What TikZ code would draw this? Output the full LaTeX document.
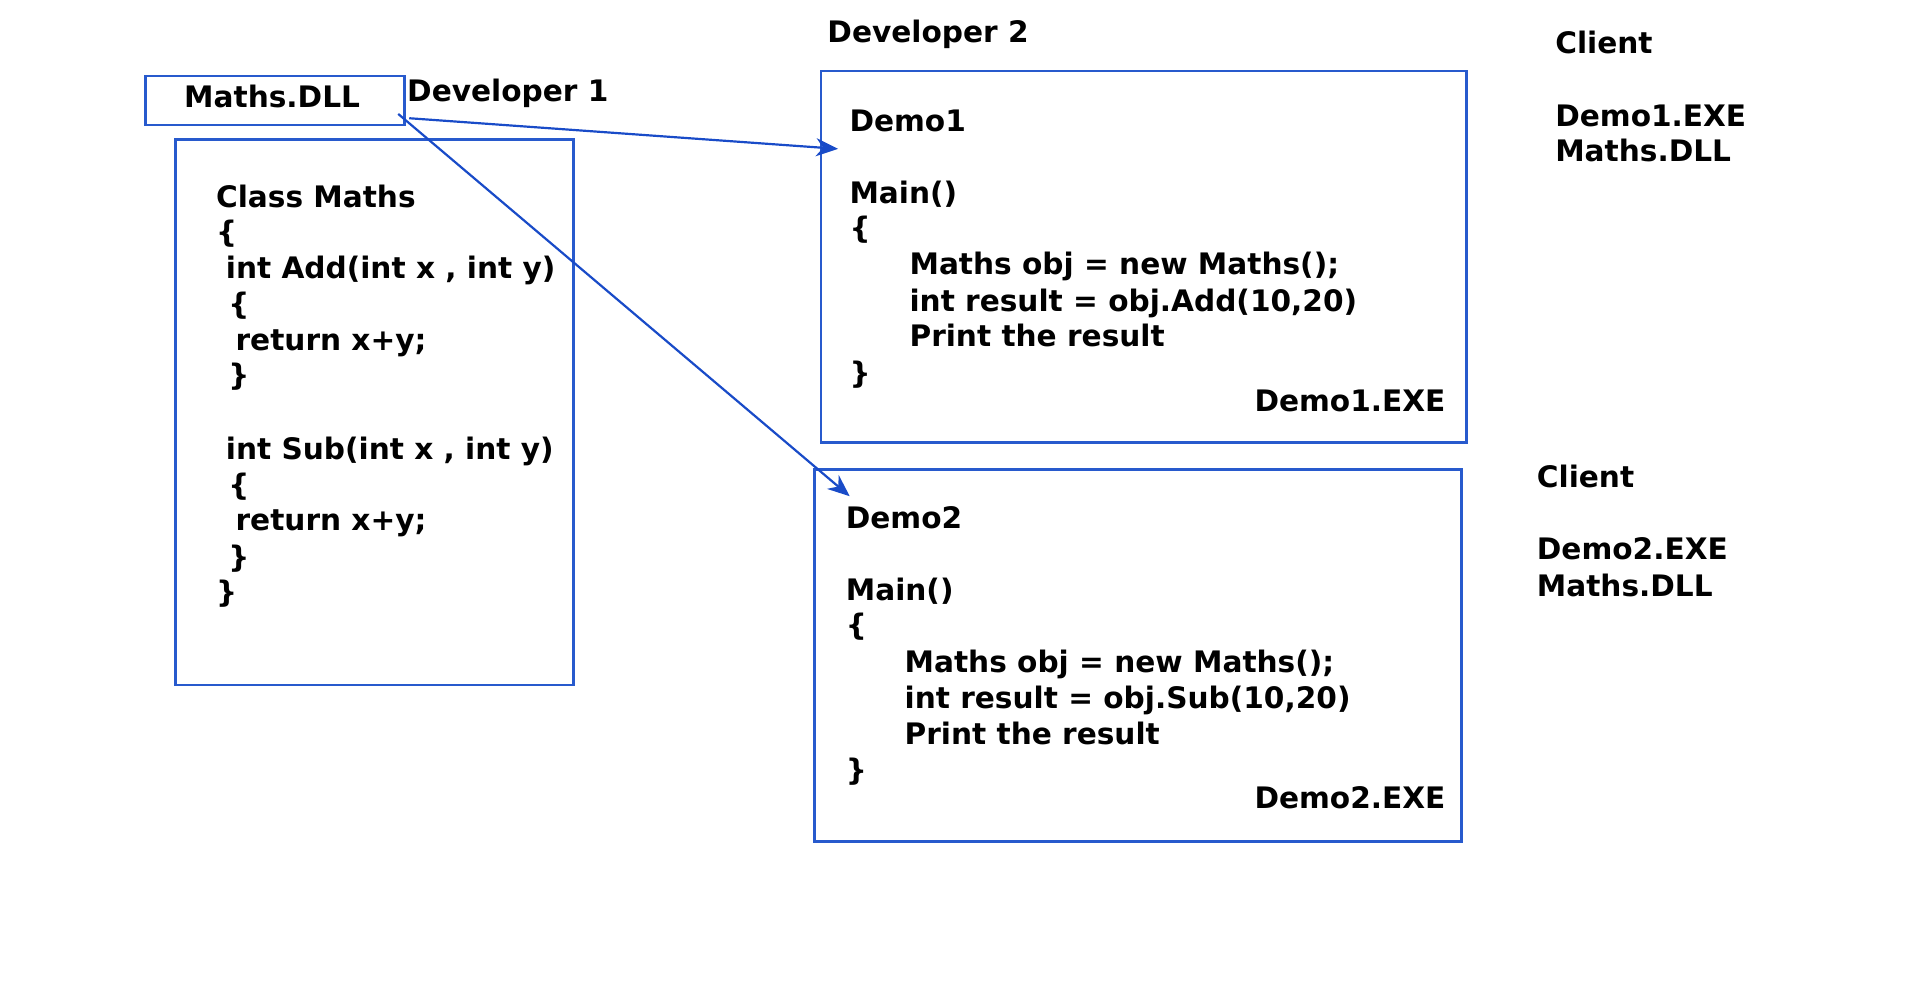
\documentclass[tikz,border=0pt]{standalone}
\usepackage{fontspec}
\setmainfont{DejaVu Sans}
\usetikzlibrary{fit,arrows.meta}
\definecolor{boxblue}{RGB}{40,90,205}
\definecolor{arrowblue}{RGB}{25,75,200}
\tikzset{
  txt/.style={anchor=base west, inner sep=0pt, font=\fontsize{14.8}{18}\selectfont\bfseries},
  txtr/.style={anchor=base east, inner sep=0pt, font=\fontsize{14.8}{18}\selectfont\bfseries},
  box/.style={draw=boxblue, line width=1.4pt, inner sep=0pt},
  link/.style={draw=arrowblue, line width=1.1pt, -{Stealth[length=11pt,width=9pt,inset=3.5pt]}}
}
\begin{document}
\begin{tikzpicture}[x=0.6127pt,y=-0.6127pt]
\useasboundingbox[fill=white] (0,0) rectangle (1567,809);
% boxes
\node[box, fit={(119,62) (330,102)}] (dllbox) {};
\node[box, fit={(143,114) (468,559)}] (classbox) {};
\node[box, fit={(670,58) (1197,361)}] (demo1box) {};
\node[box, fit={(665,383) (1193,687)}] (demo2box) {};
% DLL label and developers
\node[txt] (dll) at (150,88) {Maths.DLL};
\node[txt] (dev1) at (332,83) {Developer 1};
\node[txt] (dev2) at (675,35) {Developer 2};
% class Maths code
\node[txt] (c1) at (176,169) {Class Maths};
\node[txt] (c2) at (176,198) {\{};
\node[txt] (c3) at (184,227) {int Add(int x , int y)};
\node[txt] (c4) at (186,257) {\{};
\node[txt] (c5) at (192,286) {return x+y;};
\node[txt] (c6) at (186,315) {\}};
\node[txt] (c7) at (184,375) {int Sub(int x , int y)};
\node[txt] (c8) at (186,404) {\{};
\node[txt] (c9) at (192,433) {return x+y;};
\node[txt] (c10) at (186,463) {\}};
\node[txt] (c11) at (176,492) {\}};
% Demo1
\node[txt] (d1a) at (693,107) {Demo1};
\node[txt] (d1b) at (693,166) {Main()};
\node[txt] (d1c) at (693,195) {\{};
\node[txt] (d1d) at (742,224) {Maths obj = new Maths();};
\node[txt] (d1e) at (742,254) {int result = obj.Add(10,20)};
\node[txt] (d1f) at (742,283) {Print the result};
\node[txt] (d1g) at (693,313) {\}};
\node[txtr] (d1h) at (1180,336) {Demo1.EXE};
% Demo2
\node[txt] (d2a) at (690,431) {Demo2};
\node[txt] (d2b) at (690,490) {Main()};
\node[txt] (d2c) at (690,519) {\{};
\node[txt] (d2d) at (738,549) {Maths obj = new Maths();};
\node[txt] (d2e) at (738,578) {int result = obj.Sub(10,20)};
\node[txt] (d2f) at (738,608) {Print the result};
\node[txt] (d2g) at (690,637) {\}};
\node[txtr] (d2h) at (1180,660) {Demo2.EXE};
% clients
\node[txt] (cl1) at (1269,44) {Client};
\node[txt] (cl1a) at (1269,103) {Demo1.EXE};
\node[txt] (cl1b) at (1269,132) {Maths.DLL};
\node[txt] (cl2) at (1254,398) {Client};
\node[txt] (cl2a) at (1254,457) {Demo2.EXE};
\node[txt] (cl2b) at (1254,487) {Maths.DLL};
% arrows
\coordinate (s1) at (334,96.5);
\coordinate (e1) at (684,121.5);
\coordinate (s2) at (325,93);
\coordinate (e2) at (693.5,405);
\draw[link] (s1) -- (e1);
\draw[link] (s2) -- (e2);
\end{tikzpicture}
\end{document}
